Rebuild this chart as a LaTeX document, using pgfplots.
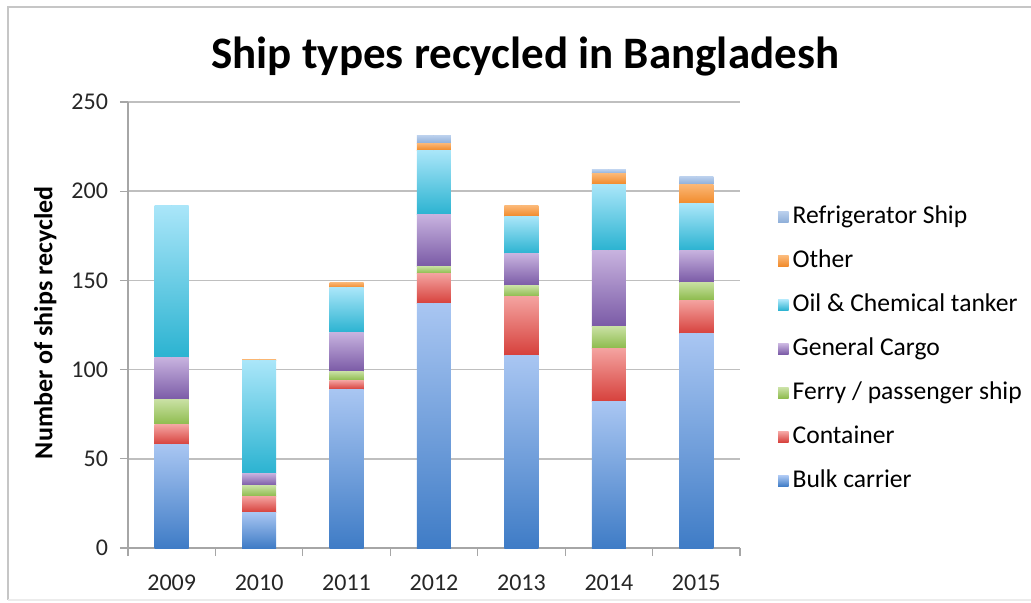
\documentclass[border=0pt]{standalone}
\usepackage{fontspec}
\setmainfont{Carlito}
\usepackage{pgfplots}
\usepackage{pgfplotstable}
\pgfplotsset{compat=1.18}
\definecolor{gridgray}{HTML}{BFBFBF}
\definecolor{axgray}{HTML}{A6A6A6}
\definecolor{bulkT}{HTML}{A9C6F2}\definecolor{bulkB}{HTML}{3F7CC6}
\definecolor{contT}{HTML}{F4A3A0}\definecolor{contB}{HTML}{D6403B}
\definecolor{ferT}{HTML}{C8E0A2}\definecolor{ferB}{HTML}{8DBB4C}
\definecolor{genT}{HTML}{C8B3DF}\definecolor{genB}{HTML}{7A5AA6}
\definecolor{oilT}{HTML}{AAE6F9}\definecolor{oilB}{HTML}{2BB3D1}
\definecolor{othT}{HTML}{FBB877}\definecolor{othB}{HTML}{F18A2A}
\definecolor{refT}{HTML}{B8CEEC}\definecolor{refB}{HTML}{8FAFD9}
\pgfplotstableread{
x Bulk Container Ferry General Oil Other Refr
0 58 11 14 24 85 0 0
1 20 9 6 7 63 1 0
2 89 5 5 22 25 3 0
3 137 17 4 29 36 4 4
4 108 33 6 18 21 6 0
5 82 30 12 43 37 6 2
6 120 19 10 18 26 11 4
}\datatable
\pgfplotsset{
  seg/.style n args={3}{
    only marks, scatter, mark=*, mark size=0pt,
    mark options={draw=none, fill=none},
    visualization depends on={\thisrow{#1} \as \h},
    scatter/@pre marker code/.code={%
      \pgfmathsetlengthmacro\hh{\h*0.892pt}%
      \ifdim\hh>0.01pt
        \shade[draw=none, top color=#2, bottom color=#3] (-8.5pt,-\hh) rectangle (8.5pt,0pt);
      \fi
    },
    scatter/@post marker code/.code={},
    legend image code/.code={\shade[draw=none, top color=#2, bottom color=#3] (0pt,-2.6pt) rectangle (5.2pt,2.6pt);},
  },
}
\begin{document}
\begin{tikzpicture}
\begin{axis}[
  at={(0pt,0pt)}, anchor=south west,
  scale only axis, width=306pt, height=223pt,
  xmin=-0.5, xmax=6.5, ymin=0, ymax=250,
  stack plots=y,
  axis x line=bottom, axis y line=left,
  axis line style={-, draw=axgray, line width=0.6pt},
  ymajorgrids, grid style={draw=gridgray, line width=0.8pt},
  ytick={0,50,...,250},
  xtick={-0.5,0.5,...,6.5}, xticklabels={},
  extra x ticks={0,1,2,3,4,5,6},
  extra x tick labels={2009,2010,2011,2012,2013,2014,2015},
  extra x tick style={major tick length=0pt, grid=none,
    xticklabel style={yshift=-10pt}},
  tick align=outside, major tick length=4pt,
  tick style={draw=axgray, line width=0.6pt},
  /pgf/number format/assume math mode=true,
  ticklabel style={font=\fontsize{12}{14}\selectfont, text=black!85},
  yticklabel style={xshift=-2.5pt},
  title={\textbf{Ship types recycled in Bangladesh}},
  title style={at={(axis description cs:0.649,1.074)}, anchor=center, font=\fontsize{22.5}{26}\selectfont},
  ylabel={\textbf{Number of ships recycled}},
  ylabel style={at={(axis description cs:-0.135,0.505)}, anchor=center, font=\fontsize{13}{15}\selectfont},
  reverse legend,
  legend style={at={(axis description cs:1.052,0.446)}, anchor=west, draw=none, fill=none,
    font=\fontsize{12.8}{15}\selectfont, row sep=6pt,
    nodes={text height=9pt, text depth=3pt, inner sep=2pt}},
  legend cell align=left,
]
\addplot[seg={Bulk}{bulkT}{bulkB}] table[x=x,y=Bulk]{\datatable};
\addplot[seg={Container}{contT}{contB}] table[x=x,y=Container]{\datatable};
\addplot[seg={Ferry}{ferT}{ferB}] table[x=x,y=Ferry]{\datatable};
\addplot[seg={General}{genT}{genB}] table[x=x,y=General]{\datatable};
\addplot[seg={Oil}{oilT}{oilB}] table[x=x,y=Oil]{\datatable};
\addplot[seg={Other}{othT}{othB}] table[x=x,y=Other]{\datatable};
\addplot[seg={Refr}{refT}{refB}] table[x=x,y=Refr]{\datatable};
\legend{Bulk carrier, Container, Ferry / passenger ship, General Cargo, Oil \& Chemical tanker, Other, Refrigerator Ship}
\end{axis}
\draw[gray!45, line width=1pt] (451.5pt,270.5pt) -- (-60pt,270.5pt) -- (-60pt,-26pt);
\draw[gray!15, line width=0.8pt] (-60pt,-26pt) -- (451.5pt,-26pt);
\pgfresetboundingbox
\path[use as bounding box] (-64pt,-27pt) rectangle (451.5pt,274pt);
\end{tikzpicture}
\end{document}
